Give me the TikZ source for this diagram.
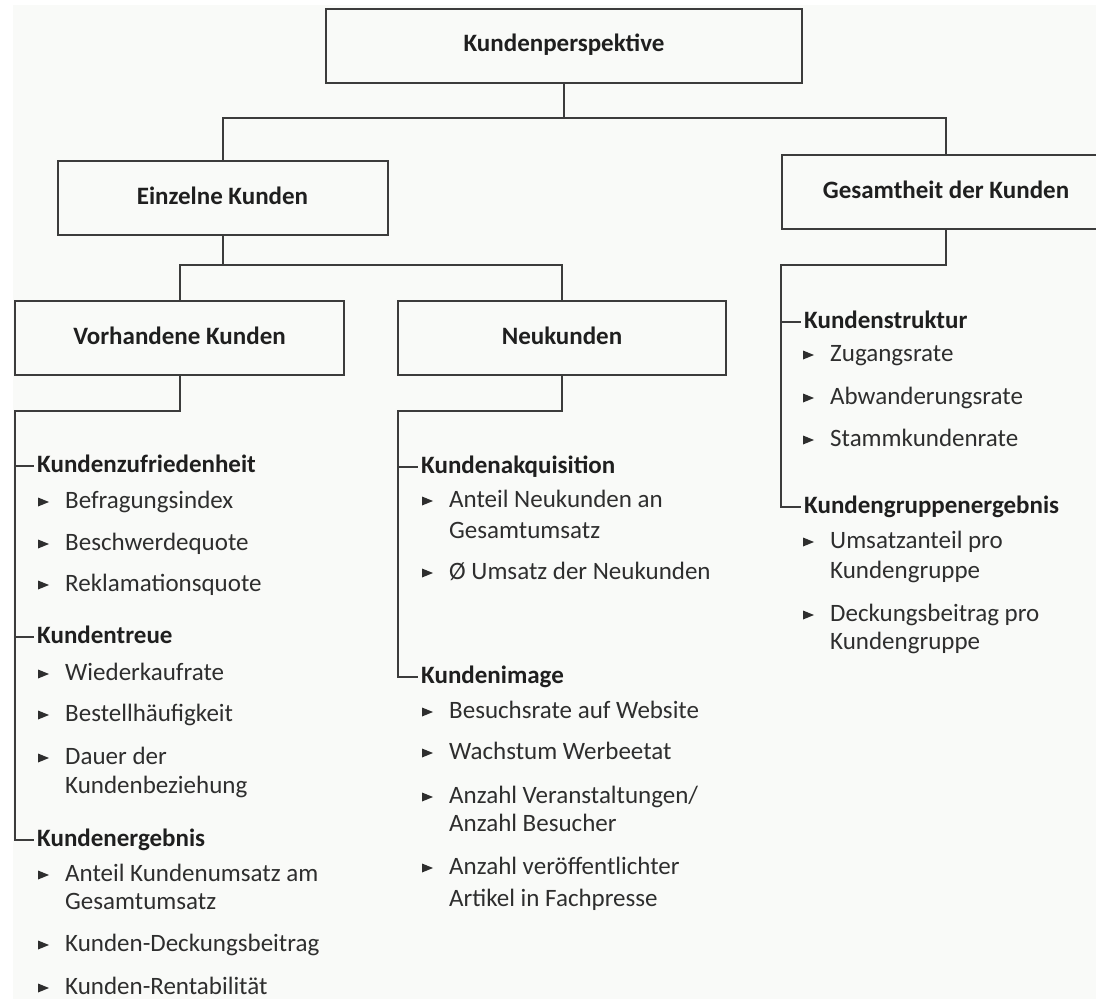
\documentclass[tikz,border=0pt]{standalone}
\usepackage{fontspec}
\setmainfont{Carlito}
\usetikzlibrary{calc}
\definecolor{paper}{HTML}{F9FAF8}
\definecolor{linec}{HTML}{3C3C3C}
\definecolor{inkc}{HTML}{1F1F1F}
\definecolor{itemc}{HTML}{2E2E2E}
\tikzset{
  ln/.style={draw=linec, line width=2pt},
  box/.style={draw=linec, line width=2pt, inner sep=0pt, minimum height=74pt,
    font=\fontsize{25}{29}\selectfont\bfseries, text=inkc,
    text height=17pt, text depth=5pt},
  hdr/.style={anchor=base west, inner xsep=3pt, inner ysep=0pt,
    font=\fontsize{25}{29}\selectfont\bfseries, text=inkc},
  itm/.style={anchor=base west, inner sep=0pt,
    font=\fontsize{25}{29}\selectfont, text=itemc},
  bul/.style={fill=itemc}
}
% half the x-height: distance from the baseline to the middle of a line
\def\xmid{6.3}
% group heading with a tick point at mid height: name, x, y, text
\newcommand\heading[4]{%
  \node[hdr] (#1) at (#2,{#3+\xmid}) {#4};
  \coordinate (#1-t) at ($(#1.base west)+(0,-\xmid)$);
}
% list entry with a triangular bullet: name, x, y, text
\newcommand\entry[4]{%
  \node[itm] (#1) at (#2,{#3+\xmid}) {#4};
  \fill[bul] ($(#1.base west)+(-27,{-\xmid-4.5})$) -- ++(11,4.5) -- ++(-11,4.5) -- cycle;
}
% continuation line of a list entry: name, x, y, text
\newcommand\more[4]{\node[itm] (#1) at (#2,{#3+\xmid}) {#4};}
\begin{document}
\begin{tikzpicture}[x=1pt,y=-1pt]
  \useasboundingbox (0,0) rectangle (1096,999);
  \clip (0,0) rectangle (1096,999);
  \fill[white] (0,0) rectangle (1096,999);
  \fill[paper] (13,5) rectangle (1096,999);

  % boxes
  \node[box, minimum width=476pt] (kp) at (564,45.5) {Kundenperspektive};
  \node[box, minimum width=330pt] (ek) at (222.5,198) {Einzelne Kunden};
  \node[box, minimum width=328pt] (gk) at (946,192) {Gesamtheit der Kunden};
  \node[box, minimum width=329pt] (vk) at (179.5,338) {Vorhandene Kunden};
  \node[box, minimum width=328pt] (nk) at (562,338) {Neukunden};

  % tree connectors
  \coordinate (j1) at (564,118);
  \coordinate (j2) at (222.5,265);
  \draw[ln] (kp.south) -- (j1);
  \draw[ln] (ek.north) -- (ek.north |- j1) -- (gk.north |- j1) -- (gk.north);
  \draw[ln] (ek.south) -- (j2);
  \draw[ln] (vk.north) -- (vk.north |- j2) -- (nk.north |- j2) -- (nk.north);

  % column: Vorhandene Kunden
  \coordinate (t1) at (15,411);
  \heading{h11}{34}{466}{Kundenzufriedenheit}
  \entry{a1}{65}{502}{Befragungsindex}
  \entry{a2}{65}{544}{Beschwerdequote}
  \entry{a3}{65}{585}{Reklamationsquote}
  \heading{h12}{34}{637}{Kundentreue}
  \entry{b1}{65}{674}{Wiederkaufrate}
  \entry{b2}{65}{715}{Bestellhäufigkeit}
  \entry{b3}{65}{758}{Dauer der}
  \more{b3b}{65}{787}{Kundenbeziehung}
  \heading{h13}{34}{840}{Kundenergebnis}
  \entry{c1}{65}{875}{Anteil Kundenumsatz am}
  \more{c1b}{65}{903}{Gesamtumsatz}
  \entry{c2}{65}{945}{Kunden-Deckungsbeitrag}
  \entry{c3}{65}{988}{Kunden-Rentabilität}
  \draw[ln] (vk.south) |- (t1) |- (h13-t);
  \draw[ln] (t1 |- h11-t) -- (h11-t);
  \draw[ln] (t1 |- h12-t) -- (h12-t);

  % column: Neukunden
  \coordinate (t2) at (398,411);
  \heading{h21}{418}{467}{Kundenakquisition}
  \entry{d1}{449}{501}{Anteil Neukunden an}
  \more{d1b}{449}{532}{Gesamtumsatz}
  \entry{d2}{449}{573}{Ø Umsatz der Neukunden}
  \heading{h22}{418}{677}{Kundenimage}
  \entry{e1}{449}{712}{Besuchsrate auf Website}
  \entry{e2}{449}{753}{Wachstum Werbeetat}
  \entry{e3}{449}{797}{Anzahl Veranstaltungen/}
  \more{e3b}{449}{825}{Anzahl Besucher}
  \entry{e4}{449}{868}{Anzahl veröffentlichter}
  \more{e4b}{449}{900}{Artikel in Fachpresse}
  \draw[ln] (nk.south) |- (t2) |- (h22-t);
  \draw[ln] (t2 |- h21-t) -- (h21-t);

  % column: Gesamtheit der Kunden
  \coordinate (t3) at (781,265);
  \heading{h31}{801}{322}{Kundenstruktur}
  \entry{f1}{830}{355}{Zugangsrate}
  \entry{f2}{830}{398}{Abwanderungsrate}
  \entry{f3}{830}{440}{Stammkundenrate}
  \heading{h32}{801}{507}{Kundengruppenergebnis}
  \entry{g1}{830}{542}{Umsatzanteil pro}
  \more{g1b}{830}{572}{Kundengruppe}
  \entry{g2}{830}{615}{Deckungsbeitrag pro}
  \more{g2b}{830}{643}{Kundengruppe}
  \draw[ln] (gk.south) |- (t3) |- (h32-t);
  \draw[ln] (t3 |- h31-t) -- (h31-t);
\end{tikzpicture}
\end{document}
